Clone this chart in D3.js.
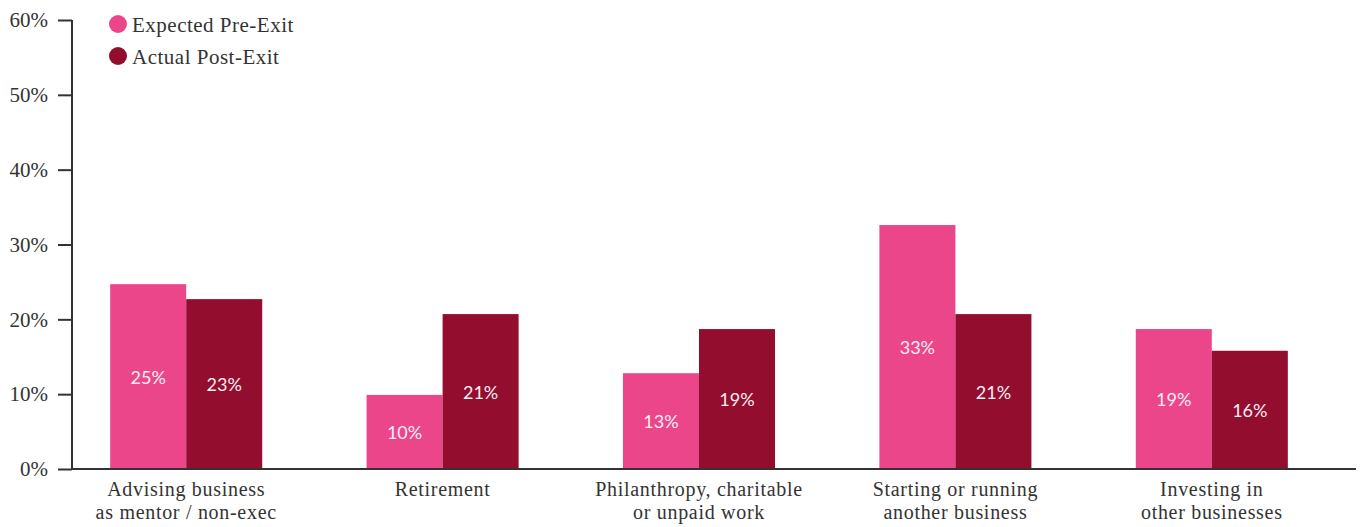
<!DOCTYPE html>
<html><head><meta charset="utf-8">
<script src="https://cdn.jsdelivr.net/npm/d3@7"></script>
<style>
html,body{margin:0;padding:0;background:#fff;}
svg{display:block;}
</style></head>
<body>
<svg id="chart" width="1362" height="527"></svg>
<script>
const categories = [
  ["Advising business","as mentor / non-exec"],
  ["Retirement"],
  ["Philanthropy, charitable","or unpaid work"],
  ["Starting or running","another business"],
  ["Investing in","other businesses"]
];
const seriesNames = ["Expected Pre-Exit","Actual Post-Exit"];
const expectedPreExit = [24.7, 9.9, 12.8, 32.6, 18.7];
const actualPostExit  = [22.7, 20.7, 18.7, 20.7, 15.8];
const yTicks = [0,10,20,30,40,50,60];
const colors = ["#EC468B","#930D2F"];

(function(){
const svg = d3.select("#chart");
const axisX = 72, plotBottom = 469, plotTop = 20, plotRight = 1356;
const serif = "'Liberation Serif', 'DejaVu Serif', serif";
const textColor = "#333";

const y = d3.scaleLinear().domain([0,60]).range([plotBottom, plotTop]);
const catKeys = categories.map(c => c.join(" "));
const x0 = d3.scaleBand().domain(catKeys).range([58,1340]).paddingInner(0.407).paddingOuter(0.2035);
const x1 = d3.scaleBand().domain(seriesNames).range([0, x0.bandwidth()]);

const data = catKeys.map((k,i) => ({key:k, values:[expectedPreExit[i], actualPostExit[i]]}));

const g = svg.append("g");
const groups = g.selectAll("g.grp").data(data).join("g").attr("class","grp")
  .attr("transform", d => `translate(${x0(d.key)},0)`);
groups.selectAll("rect").data(d => d.values.map((v,j)=>({v, s:seriesNames[j], j})))
  .join("rect")
  .attr("x", d => x1(d.s))
  .attr("y", d => y(d.v))
  .attr("width", x1.bandwidth())
  .attr("height", d => y(0) - y(d.v))
  .attr("fill", d => colors[d.j]);
groups.selectAll("text").data(d => d.values.map((v,j)=>({v, s:seriesNames[j], j})))
  .join("text")
  .attr("x", d => x1(d.s) + x1.bandwidth()/2)
  .attr("y", d => (y(d.v) + y(0))/2)
  .attr("text-anchor","middle")
  .attr("dominant-baseline","central")
  .attr("fill","#fbeef3")
  .style("font-family","Lato, 'Open Sans', sans-serif")
  .style("font-weight","400")
  .style("font-size","18px")
  .text(d => Math.round(d.v) + "%");

const yAxis = d3.axisLeft(y).tickValues(yTicks).tickFormat(d => d + "%").tickSize(14).tickPadding(10);
const ya = svg.append("g").attr("transform", `translate(${axisX},0)`).call(yAxis);
ya.select(".domain").attr("d", `M0,${plotTop}V${plotBottom}`).attr("stroke", textColor).attr("stroke-width", 2);
ya.selectAll(".tick line").attr("stroke", textColor).attr("stroke-width", 2);
ya.selectAll(".tick text").attr("fill", textColor)
  .style("font-family", serif).style("font-size","21px");

const xAxis = d3.axisBottom(x0).tickSize(0).tickFormat("");
const xa = svg.append("g").attr("transform", `translate(0,${plotBottom})`).call(xAxis);
xa.select(".domain").attr("d", `M${axisX},0H${plotRight}`).attr("stroke", textColor).attr("stroke-width", 2);

const labels = svg.append("g").selectAll("text").data(categories).join("text")
  .attr("text-anchor","middle")
  .attr("fill", textColor)
  .style("font-family", serif).style("font-size","20px").style("letter-spacing","0.7px")
  .attr("transform", (d,i) => `translate(${x0(catKeys[i]) + x0.bandwidth()/2},0)`);
labels.selectAll("tspan").data(d => d).join("tspan")
  .attr("x", 0).attr("y", (d,i) => 496 + i*22.5).text(d => d);

const legend = svg.append("g").selectAll("g").data(seriesNames).join("g")
  .attr("transform", (d,i) => `translate(118,${24 + i*32})`);
legend.append("circle").attr("r", 9).attr("fill", (d,i) => colors[i]);
legend.append("text").attr("x", 14).attr("y", 1).attr("dominant-baseline","central")
  .attr("fill", textColor).style("font-family", serif).style("font-size","21px").style("letter-spacing","0.5px").text(d => d);
})();
</script>
</body></html>
